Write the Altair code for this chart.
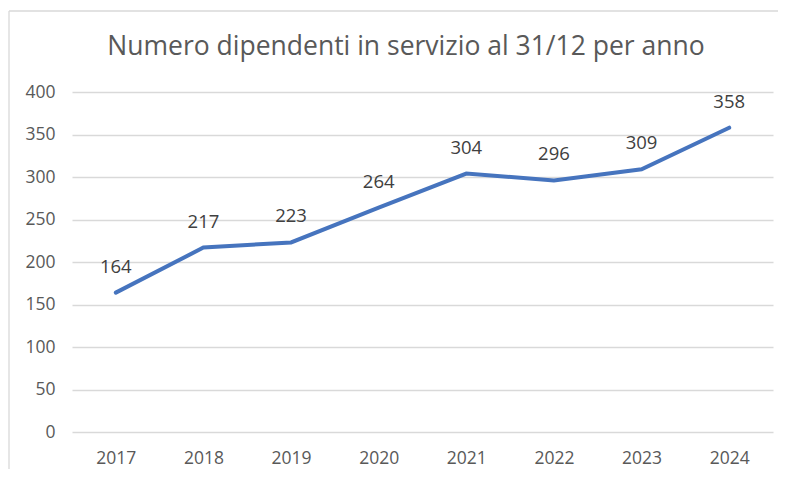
import altair as alt
import pandas as pd

anni = ["2017", "2018", "2019", "2020", "2021", "2022", "2023", "2024"]
dipendenti = [164, 217, 223, 264, 304, 296, 309, 358]
y_ticks = [0, 50, 100, 150, 200, 250, 300, 350, 400]
titolo = ["Numero dipendenti in servizio al 31/12 per anno"]

df = pd.DataFrame({"anno": anni, "n": dipendenti})

FONT = "Open Sans"
GRAY = "#595959"
W, H = 701, 340

x = alt.X("anno:O", sort=anni,
          scale=alt.Scale(type="point", padding=0.5),
          axis=alt.Axis(title=None, labelAngle=0, tickSize=0, domain=False,
                        labelPadding=17, labelFontSize=17.5, labelColor=GRAY,
                        labelFont=FONT, grid=False))
y = alt.Y("n:Q", scale=alt.Scale(domain=[0, 400], nice=False),
          axis=alt.Axis(title=None, values=y_ticks, tickSize=0, domain=False,
                        labelPadding=17, labelFontSize=17.5, labelColor=GRAY,
                        labelFont=FONT, gridColor="#D9D9D9", gridWidth=1.3))

base = alt.Chart(df)
line = base.mark_line(color="#4674BE", strokeWidth=4, strokeCap="round").encode(x=x, y=y)
labels = base.mark_text(dy=-20, fontSize=18.5, color="#404040", font=FONT,
                        baseline="alphabetic").encode(x=x, y=y, text="n:Q")

title = alt.Chart(pd.DataFrame({"t": titolo})).mark_text(
    fontSize=26.5, font=FONT, color=GRAY, align="center", baseline="alphabetic").encode(
    x=alt.value(334), y=alt.value(-37), text="t:N")

border_left = alt.Chart(pd.DataFrame({"a": [0]})).mark_rule(color="#D9D9D9", strokeWidth=1.3).encode(
    x=alt.value(-63), y=alt.value(-81), y2=alt.value(400))
border_top = alt.Chart(pd.DataFrame({"a": [0]})).mark_rule(color="#D9D9D9", strokeWidth=1.3).encode(
    x=alt.value(-63), x2=alt.value(720), y=alt.value(-81))

chart = alt.layer(border_left, border_top, line, labels, title).properties(
    width=W, height=H,
    autosize=alt.AutoSizeParams(type="none"),
    padding={"left": 64, "top": 84, "right": 5, "bottom": 37},
).configure_view(stroke=None)

chart.save("out.html", embed_options={"renderer": "svg", "actions": False})
